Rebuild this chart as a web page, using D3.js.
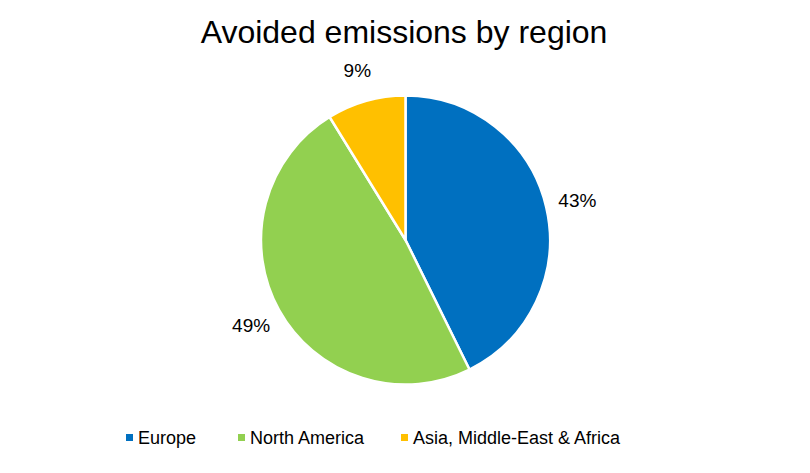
<!DOCTYPE html>
<html lang="en">
<head>
  <meta charset="UTF-8">
  <title>Avoided emissions by region</title>
  <script src="https://d3js.org/d3.v7.min.js"></script>
  <style>
    html, body { margin: 0; padding: 0; background: #fff; }
  </style>
</head>
<body>
  <div id="chart"></div>

  <script>
    // Regions and their share of avoided emissions (%)
    const regions = ['Europe', 'North America', 'Asia, Middle-East & Africa'];
    const shares = [42.7, 48.5, 8.8];
    const colors = ['#0070C0', '#92D050', '#FFC000'];

    const width = 810, height = 473;
    const cx = 405.5, cy = 240, radius = 144.5;

    const svg = d3.select('#chart')
      .append('svg')
      .attr('width', width)
      .attr('height', height)
      .style('font-family', '"Liberation Sans", Arial, sans-serif');

    // Title
    svg.append('text')
      .attr('x', 404)
      .attr('y', 43)
      .attr('text-anchor', 'middle')
      .attr('font-size', '32px')
      .attr('fill', '#000')
      .text('Avoided emissions by region');

    const data = regions.map((r, i) => ({ region: r, value: shares[i], color: colors[i] }));

    const pie = d3.pie().value(d => d.value).sort(null);
    const arc = d3.arc().innerRadius(0).outerRadius(radius);
    const labelArc = d3.arc().innerRadius(radius + 32).outerRadius(radius + 32);

    const g = svg.append('g').attr('transform', `translate(${cx},${cy})`);
    const arcs = pie(data);

    g.selectAll('path')
      .data(arcs)
      .join('path')
      .attr('d', arc)
      .attr('fill', d => d.data.color)
      .attr('stroke', '#fff')
      .attr('stroke-width', 2.5);

    g.selectAll('text.pct')
      .data(arcs)
      .join('text')
      .attr('class', 'pct')
      .attr('transform', d => `translate(${labelArc.centroid(d)})`)
      .attr('text-anchor', 'middle')
      .attr('dy', '0.35em')
      .attr('font-size', '19px')
      .attr('fill', '#000')
      .text(d => Math.round(d.data.value) + '%');

    // Legend
    const legendX = [126, 238, 401];
    const legend = svg.append('g');
    data.forEach((d, i) => {
      const item = legend.append('g').attr('transform', `translate(${legendX[i]},438)`);
      item.append('rect')
        .attr('x', 0).attr('y', -4)
        .attr('width', 7).attr('height', 7)
        .attr('fill', d.color);
      item.append('text')
        .attr('x', 12)
        .attr('dy', '0.35em')
        .attr('font-size', '18px')
        .attr('fill', '#000')
        .text(d.region);
    });
  </script>
</body>
</html>
